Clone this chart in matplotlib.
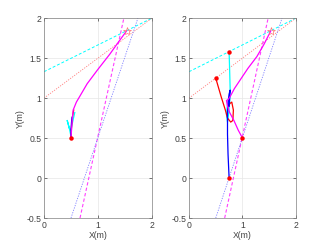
import numpy as np
import matplotlib
matplotlib.use('Agg')
import matplotlib.pyplot as plt

plt.rcParams['font.family'] = ['Liberation Sans', 'DejaVu Sans']
plt.rcParams['font.size'] = 6.2

# Rectas de referencia (dos puntos cada una)
ref_cyan = ([0.0, 2.0], [1.33, 2.0])
ref_red = ([0.0, 2.0], [1.0, 2.0])
ref_mag = ([0.667, 1.48], [-0.5, 2.0])
ref_blue = ([0.5, 1.74], [-0.5, 2.0])

objetivo = (1.53, 1.84)

# Caso 1: todos parten de (0.5, 0.5)
izq_mag_x = [0.5, 0.52, 0.54, 0.6, 0.67, 0.8, 1.0, 1.22, 1.4, 1.53]
izq_mag_y = [0.5, 0.7, 0.85, 0.95, 1.03, 1.18, 1.36, 1.55, 1.72, 1.84]
izq_cyan_x = [0.5, 0.47, 0.43, 0.47, 0.5, 0.53, 0.57]
izq_cyan_y = [0.52, 0.62, 0.72, 0.62, 0.6, 0.7, 0.82]
izq_red_x = [0.5, 0.51, 0.53, 0.55]
izq_red_y = [0.5, 0.65, 0.78, 0.85]
izq_blue_x = [0.5, 0.5, 0.51, 0.52]
izq_blue_y = [0.5, 0.6, 0.7, 0.76]
izq_ini_x = [0.5]
izq_ini_y = [0.5]

# Caso 2: cuatro puntos de partida distintos
der_cyan_x = [0.75, 0.76, 0.77, 0.76, 0.74, 0.72, 0.7, 0.72, 0.76, 0.75]
der_cyan_y = [1.58, 1.35, 1.1, 0.95, 0.8, 0.7, 0.8, 0.92, 0.95, 0.9]
der_red_x = [0.5, 0.6, 0.68, 0.72, 0.78, 0.82, 0.83, 0.8, 0.76, 0.75]
der_red_y = [1.25, 1.02, 0.85, 0.75, 0.7, 0.72, 0.85, 0.95, 0.93, 0.9]
der_mag_x = [1.0, 0.92, 0.84, 0.76, 0.72, 0.7, 0.73, 0.77, 0.85, 0.95, 1.1, 1.27, 1.4, 1.53]
der_mag_y = [0.5, 0.6, 0.72, 0.82, 0.9, 0.97, 0.98, 1.02, 1.12, 1.22, 1.37, 1.52, 1.67, 1.84]
der_blue_x = [0.75, 0.73, 0.72, 0.72, 0.73, 0.75, 0.77, 0.76, 0.75]
der_blue_y = [0.0, 0.3, 0.55, 0.8, 0.95, 1.05, 1.1, 1.0, 0.9]
der_ini_x = [0.75, 0.5, 1.0, 0.75]
der_ini_y = [1.58, 1.25, 0.5, 0.0]

fig = plt.figure(figsize=(3.27, 2.45), dpi=100)
ax1 = fig.add_axes([0.1346, 0.110, 0.330, 0.816])
ax2 = fig.add_axes([0.578, 0.110, 0.327, 0.816])


def dibujar(ax, trayectorias, ini_x, ini_y):
    ax.plot(*ref_cyan, color='cyan', ls=(0, (3, 2)), lw=0.7)
    ax.plot(*ref_red, color='#ff8080', ls=(0, (1.5, 1.5)), lw=0.6)
    ax.plot(*ref_mag, color='#ff40ff', ls=(0, (3, 2)), lw=0.8)
    ax.plot(*ref_blue, color='#8080ff', ls=(0, (1.5, 1.5)), lw=0.6)
    for tx, ty, col in trayectorias:
        ax.plot(tx, ty, color=col, lw=0.9)
    ax.plot(ini_x, ini_y, 'o', color='red', ms=2.2, ls='none')
    ax.plot(*objetivo, marker='*', color='#ff7070', ms=6, mew=0.5,
            mfc='none', ls='none')
    ax.set_xlim(0, 2)
    ax.set_ylim(-0.5, 2)
    ax.set_xticks([0, 1, 2])
    ax.set_yticks([-0.5, 0, 0.5, 1, 1.5, 2])
    ax.set_yticklabels(['-0.5', '0', '0.5', '1', '1.5', '2'])
    ax.grid(True, color='#e6e6e6', lw=0.5)
    ax.set_axisbelow(True)
    ax.tick_params(direction='in', length=2, width=0.5, colors='#404040',
                   top=True, right=True, pad=2)
    for s in ax.spines.values():
        s.set_color('#808080')
        s.set_linewidth(0.5)
    ax.set_xlabel('X(m)', labelpad=1, color='#404040')
    ax.set_ylabel('Y(m)', labelpad=1, color='#404040')


dibujar(ax1, [(izq_cyan_x, izq_cyan_y, 'cyan'),
              (izq_red_x, izq_red_y, 'red'),
              (izq_blue_x, izq_blue_y, 'blue'),
              (izq_mag_x, izq_mag_y, 'magenta')], izq_ini_x, izq_ini_y)
dibujar(ax2, [(der_cyan_x, der_cyan_y, 'cyan'),
              (der_red_x, der_red_y, 'red'),
              (der_blue_x, der_blue_y, 'blue'),
              (der_mag_x, der_mag_y, 'magenta')], der_ini_x, der_ini_y)

fig.savefig('out.png', dpi=100)
